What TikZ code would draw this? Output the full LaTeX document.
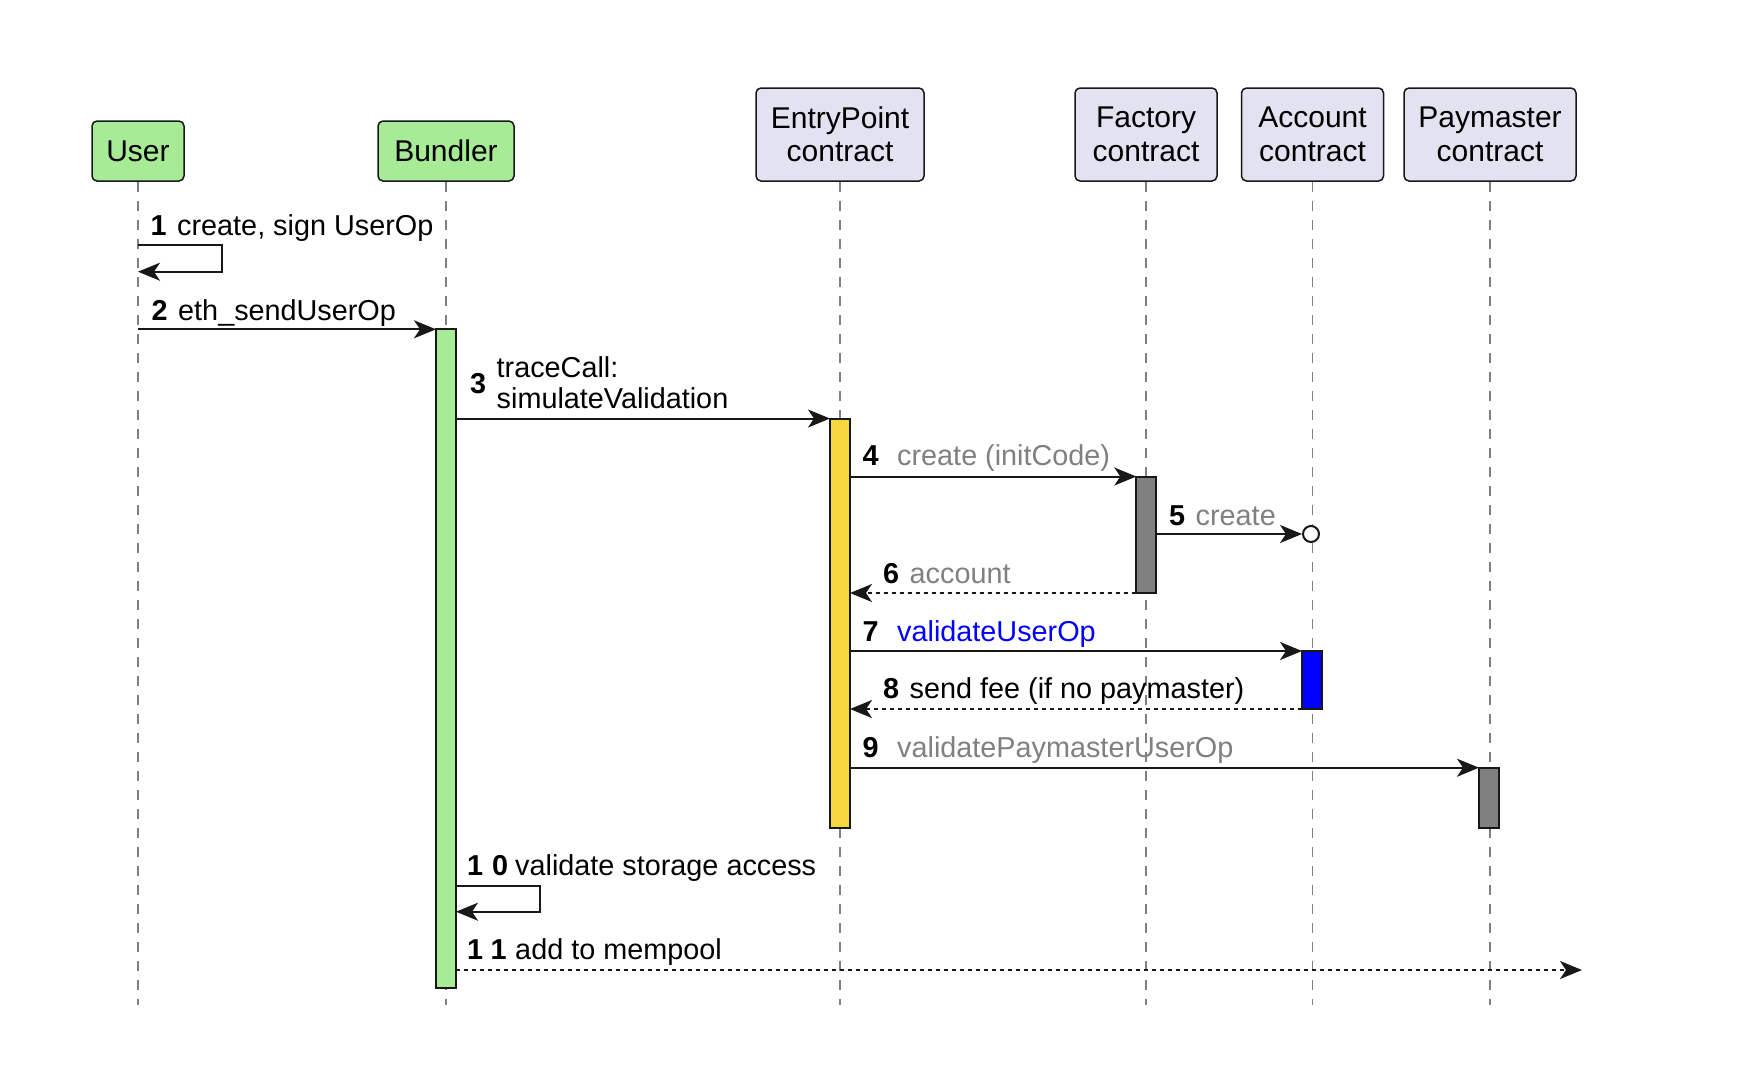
\documentclass[tikz,border=0pt]{standalone}
\usepackage{fontspec}
\setmainfont{Liberation Sans}
\usetikzlibrary{arrows.meta,positioning}

\definecolor{pgreen}{HTML}{A8EB96}
\definecolor{pviolet}{HTML}{E2E2F0}
\definecolor{pgold}{HTML}{F7D740}
\definecolor{pline}{HTML}{181818}

\tikzset{
    party/.style={rectangle,rounded corners=5pt,draw=pline,line width=1.5pt,inner sep=0pt,
        align=center,font=\fontsize{30}{33.5}\selectfont},
    life/.style={draw=gray,line width=1.5pt,dash pattern=on 10pt off 9pt},
    act/.style={rectangle,draw=pline,line width=2pt,inner sep=0pt,outer sep=0pt,minimum width=20pt,anchor=north},
    msg/.style={draw=pline,line width=2pt,-{Stealth[length=22pt,width=18pt,inset=6pt]}},
    ret/.style={msg,dash pattern=on 4pt off 4pt},
    lbl/.style={inner sep=0pt,anchor=base west,font=\fontsize{28.8}{31}\selectfont}
}
\newcommand{\seqno}[1]{\textbf{#1}\hspace{10.5pt}}

\begin{document}
\begin{tikzpicture}[x=1pt,y=-1pt]
    \useasboundingbox (0,0) rectangle (1742,1080);

    % participants
    \node[party,fill=pgreen,minimum width=92pt,minimum height=60pt] (user) at (138,151) {User};
    \node[party,fill=pgreen,minimum width=136pt,minimum height=60pt] (bundler) at (446,151) {Bundler};
    \node[party,fill=pviolet,minimum width=168pt,minimum height=93pt] (entry) at (840,134.5) {EntryPoint\\contract};
    \node[party,fill=pviolet,minimum width=142pt,minimum height=93pt] (factory) at (1146,134.5) {Factory\\contract};
    \node[party,fill=pviolet,minimum width=142pt,minimum height=93pt,right=23pt of factory] (account) {Account\\contract};
    \node[party,fill=pviolet,minimum width=172pt,minimum height=93pt,right=19pt of account] (paymaster) {Paymaster\\contract};

    \foreach \p in {user,bundler,entry,factory,account,paymaster}
        \draw[life] (\p.south) -- (\p.south |- 0,1005);

    % activations
    \node[act,fill=pgreen,minimum height=659pt] (actB) at (446,329.3) {};
    \node[act,fill=pgold,minimum height=409pt] (actE) at (840,418.5) {};
    \node[act,fill=gray,minimum height=116.5pt] (actF) at (1146.3,476.5) {};
    \node[act,fill=blue,minimum height=58pt] (actA) at (1312,651) {};
    \node[act,fill=gray,minimum height=60pt] (actP) at (1489,767.7) {};
    \node[circle,draw=pline,line width=2pt,fill=white,minimum size=16pt,inner sep=0pt] (newacc) at (1311,534) {};

    % messages
    \coordinate (loopA) at (user.south |- 0,245);
    \draw[msg] (loopA) -- ++(84,0) -- ++(0,26.7) -- (user.south |- 0,271.7);
    \draw[msg] (user.south |- actB.north) -- (actB.north west);
    \draw[msg] (actB.east |- actE.north) -- (actE.north west);
    \draw[msg] (actE.east |- actF.north) -- (actF.north west);
    \draw[msg] (actF.east |- newacc) -- (newacc.west);
    \draw[ret] (actF.south west) -- (actE.east |- actF.south);
    \draw[msg] (actE.east |- actA.north) -- (actA.north west);
    \draw[ret] (actA.south west) -- (actE.east |- actA.south);
    \draw[msg] (actE.east |- actP.north) -- (actP.north west);
    \coordinate (loopB) at (actB.east |- 0,885.7);
    \draw[msg] (loopB) -- ++(84,0) -- ++(0,26) -- (actB.east |- 0,911.7);
    \coordinate (pool) at (1582,970);
    \draw[ret] (actB.east |- pool) -- (pool);

    % labels
    \node[lbl] (m1) at (150.5,235) {\seqno{1}create, sign UserOp};
    \node[lbl] (m2) at (151.5,320) {\seqno{2}eth\_sendUserOp};
    \node[lbl] (m3) at (470,393) {\seqno{3}\begin{tabular}{@{}l@{}}traceCall:\\simulateValidation\end{tabular}};
    \node[lbl] (m4) at (862.5,465) {\seqno{4}\hspace{8pt}\textcolor{gray}{create (initCode)}};
    \node[lbl] (m5) at (1169,525) {\seqno{5}\textcolor{gray}{create}};
    \node[lbl] (m6) at (883,583) {\seqno{6}\textcolor{gray}{account}};
    \node[lbl] (m7) at (862.5,641) {\seqno{7}\hspace{8pt}\textcolor{blue}{validateUserOp}};
    \node[lbl] (m8) at (883,698) {\seqno{8}send fee (if no paymaster)};
    \node[lbl] (m9) at (862.5,757.7) {\seqno{9}\hspace{8pt}\textcolor{gray}{validatePaymasterUserOp}};
    \node[lbl] (m10) at (467,875) {\textbf{1}\hspace{9pt}\textbf{0}\hspace{7pt}validate storage access};
    \node[lbl] (m11) at (467,959) {\textbf{1}\hspace{7.5pt}\textbf{1}\hspace{8.5pt}add to mempool};
\end{tikzpicture}
\end{document}
